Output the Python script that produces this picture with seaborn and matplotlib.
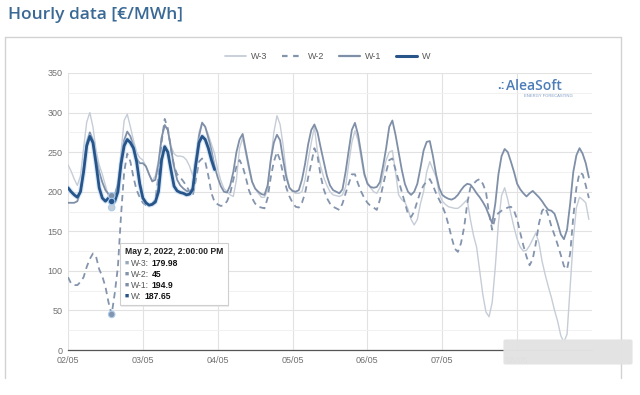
import numpy as np
import pandas as pd
import seaborn as sns
import matplotlib.pyplot as plt
from matplotlib.lines import Line2D
from matplotlib.patches import Rectangle, FancyBboxPatch
from matplotlib.text import Annotation

sns.set_style("white")
plt.rcParams["font.family"] = ["Liberation Sans", "DejaVu Sans"]

# Hourly prices (EUR/MWh), from 02/05 00:00, one value per hour
w3 = [234, 226, 216, 208, 220, 255, 288, 300, 282, 252, 234, 222,
      208, 194, 179.98, 185, 205, 250, 290, 298, 282, 265, 250, 243,
      240, 232, 222, 214, 220, 240, 268, 285, 278, 258, 248, 245,
      245, 244, 240, 232, 220, 245, 275, 288, 282, 272, 260, 248,
      228, 214, 204, 200, 196, 194, 215, 255, 268, 248, 228, 212,
      204, 198, 193, 193, 202, 240, 275, 296, 285, 258, 223, 205,
      200, 198, 198, 200, 215, 240, 262, 282, 250, 232, 218, 208,
      200, 196, 195, 194, 196, 206, 235, 262, 277, 265, 242, 220,
      212, 205, 200, 198, 205, 222, 240, 250, 252, 225, 196, 190,
      187, 178, 165, 158, 165, 185, 200, 225, 238, 228, 219, 198,
      188, 184, 181, 180, 179, 179, 182, 186, 190, 165, 145, 130,
      100, 70, 48, 42, 60, 105, 160, 195, 205, 190, 172, 155,
      140, 130, 125, 126, 132, 140, 148, 135, 112, 95, 80, 66,
      50, 36, 18, 10, 20, 80, 140, 180, 193, 190, 186, 165]
w2 = [92, 84, 82, 82, 86, 92, 105, 115, 122, 118, 102, 93,
      80, 60, 45, 72, 105, 170, 225, 248, 238, 218, 202, 193,
      186, 183, 182, 185, 190, 220, 262, 292, 280, 255, 232, 222,
      218, 213, 207, 200, 195, 215, 238, 242, 238, 220, 198, 187,
      184, 182, 183, 188, 198, 215, 232, 240, 232, 218, 202, 192,
      185, 181, 180, 179, 192, 218, 238, 250, 240, 222, 205, 194,
      186, 181, 180, 186, 198, 218, 236, 255, 245, 220, 203, 192,
      185, 181, 179, 177, 185, 198, 210, 222, 222, 210, 200, 192,
      186, 182, 180, 177, 190, 208, 225, 240, 242, 228, 214, 200,
      186, 172, 168, 175, 188, 200, 208, 213, 216, 208, 198, 190,
      182, 172, 158, 142, 128, 124, 135, 155, 185, 205, 210, 214,
      216, 210, 200, 172, 152, 168, 173, 176, 178, 180, 181, 176,
      165, 148, 132, 118, 107, 115, 135, 160, 176, 180, 170, 156,
      145, 133, 120, 106, 102, 122, 168, 205, 224, 222, 208, 192]
w1 = [186, 186, 186, 188, 200, 230, 262, 275, 265, 242, 225, 212,
      202, 197, 194.9, 196, 210, 240, 265, 276, 270, 258, 242, 236,
      236, 232, 222, 213, 215, 235, 268, 284, 278, 255, 232, 215,
      208, 204, 201, 200, 205, 235, 270, 287, 282, 268, 252, 232,
      218, 207, 200, 199, 208, 225, 250, 266, 273, 252, 232, 213,
      204, 200, 197, 196, 208, 240, 262, 272, 265, 240, 218, 205,
      201, 200, 202, 215, 235, 260, 278, 285, 275, 256, 238, 220,
      208, 202, 200, 198, 203, 225, 252, 278, 287, 272, 248, 223,
      210, 206, 205, 206, 212, 232, 255, 282, 290, 272, 250, 228,
      210, 200, 196, 200, 210, 230, 252, 263, 264, 245, 222, 205,
      196, 193, 191, 190, 192, 196, 202, 207, 210, 209, 204, 198,
      193, 187, 180, 170, 160, 185, 222, 245, 254, 250, 238, 225,
      210, 203, 198, 194, 198, 201, 197, 193, 188, 182, 177, 176,
      172, 160, 146, 140, 152, 185, 225, 246, 255, 248, 236, 218]
w0 = [205, 200, 196, 193, 200, 225, 258, 270, 262, 235, 205, 192,
      188, 192, 187.65, 188, 200, 235, 258, 266, 262, 255, 238, 210,
      192, 186, 183, 184, 187, 200, 240, 257, 250, 228, 207, 201,
      199, 198, 196, 197, 203, 235, 262, 270, 266, 255, 240, 228]

series_names = ["W-3", "W-2", "W-1", "W"]
day_labels = ["02/05", "03/05", "04/05", "05/05", "06/05", "07/05", "08/05"]
tip_hour = 14
tip_title = "May 2, 2022, 2:00:00 PM"
tip_values = ["179.98", "45", "194.9", "187.65"]

colours = {"W-3": "#c6cdd7", "W-2": "#8494ad", "W-1": "#7f8fa8", "W": "#27558a"}
widths = {"W-3": 1.0, "W-2": 1.3, "W-1": 1.3, "W": 2.0}

frames = []
for name, vals in zip(series_names, [w3, w2, w1, w0]):
    frames.append(pd.DataFrame({"hour": np.arange(len(vals)), "price": vals, "series": name}))
df = pd.concat(frames, ignore_index=True)

W, H = 640, 395
fig = plt.figure(figsize=(6.4, 3.95), dpi=100)
ax = fig.add_axes([68 / W, 1 - 350 / H, (592 - 68) / W, (350 - 73) / H])

# lines
for name in series_names:
    d = df[df["series"] == name]
    if name == "W":
        # hover highlight round the current week
        sns.lineplot(data=d, x="hour", y="price", color="#a8cbee", linewidth=3.6, alpha=0.45, ax=ax)
    ls = (0, (3.5, 2.5)) if name == "W-2" else "-"
    sns.lineplot(data=d, x="hour", y="price", color=colours[name], linewidth=widths[name],
                 linestyle=ls, ax=ax)

# hovered points
tip_y = [w3[tip_hour], w2[tip_hour], w1[tip_hour], w0[tip_hour]]
sns.scatterplot(x=[tip_hour] * 4, y=tip_y, hue=series_names, palette=colours, s=22,
                edgecolor="#a8cbee", linewidth=0.8, legend=False, ax=ax, zorder=5)

ax.set_xlim(0, 168)
ax.set_ylim(0, 350)
ax.set_xticks(np.arange(0, 168, 24))
ax.set_xticklabels(day_labels)
ax.set_yticks(np.arange(0, 351, 50))
ax.set_yticks(np.arange(25, 350, 50), minor=True)
ax.set_xlabel(None)
ax.set_ylabel(None)
ax.grid(True, which="major", color="#e2e2e2", linewidth=0.8)
ax.grid(True, which="minor", axis="y", color="#f1f1f1", linewidth=0.7)
ax.set_axisbelow(True)
for s in ["left", "right", "top"]:
    ax.spines[s].set_visible(False)
ax.spines["bottom"].set_color("#555555")
ax.spines["bottom"].set_linewidth(0.9)
ax.tick_params(which="both", length=0, labelsize=6.5, labelcolor="#707070", pad=4)

# legend
handles = [Line2D([], [], color=colours[n], linewidth=widths[n] + (0.3 if n != "W" else 0.2),
                  linestyle=(0, (2.5, 2.5)) if n == "W-2" else "-") for n in series_names]
leg = fig.legend(handles, series_names, loc="center", bbox_to_anchor=(0.512, 0.857), ncol=4,
                 frameon=False, fontsize=6.5, handlelength=2.3, columnspacing=1.7, handletextpad=0.5)
for t in leg.get_texts():
    t.set_color("#555555")

# panel frame
frame_kw = dict(transform=fig.transFigure, color="#d2d2d2", linewidth=1.0)
fig.add_artist(Line2D([5 / W, 621 / W], [1 - 37 / H, 1 - 37 / H], **frame_kw))
fig.add_artist(Line2D([5 / W, 5 / W], [1 - 37 / H, 1 - 378 / H], **frame_kw))
fig.add_artist(Line2D([621 / W, 621 / W], [1 - 37 / H, 1 - 378 / H], **frame_kw))

# title
fig.text(8 / W, 1 - 15 / H, "Hourly data [€/MWh]", fontsize=12.5, color="#3b6995",
         family=["Open Sans", "DejaVu Sans"], fontweight="semibold", va="center")

# logo
fig.text(497 / W, 1 - 86 / H, ".:", fontsize=9, color="#4d7db8", fontweight="bold", va="center")
fig.text(506 / W, 1 - 86 / H, "AleaSoft", fontsize=10, color="#4d7db8", fontweight="semibold",
         va="center", family=["Open Sans", "DejaVu Sans"])
fig.text(573 / W, 1 - 96 / H, "ENERGY FORECASTING", fontsize=3.0, color="#7c9bc4", va="center", ha="right")

# tooltip
fig.add_artist(Rectangle((121 / W, 1 - 307 / H), 108 / W, 63 / H, transform=fig.transFigure,
                         facecolor="#dddddd", edgecolor="none", alpha=0.5, zorder=9))
fig.add_artist(Rectangle((120 / W, 1 - 305 / H), 108 / W, 62 / H, transform=fig.transFigure,
                         facecolor="white", edgecolor="#cfcfcf", linewidth=0.8, zorder=10))
fig.text(125 / W, 1 - 252 / H, tip_title, fontsize=6.2, fontweight="bold", color="#222222",
         va="center", zorder=11)
for i, (name, val) in enumerate(zip(series_names, tip_values)):
    yy = 1 - (263 + i * 11.2) / H
    fig.text(125 / W, yy, "■", fontsize=5, color=colours[name] if name != "W-3" else "#9aa8bb",
             va="center", zorder=11)
    lab = fig.text(131 / W, yy, name + ":", fontsize=6.2, color="#555555", va="center", zorder=11)
    ann = Annotation(val, xy=(1, 0.5), xycoords=lab, xytext=(2, 0), textcoords="offset points",
                     fontsize=6.2, fontweight="bold", color="#111111", va="center", zorder=12,
                     annotation_clip=False)
    fig.add_artist(ann)

# smudge over the bottom right corner
fig.add_artist(FancyBboxPatch((506 / W, 1 - 363 / H), 124 / W, 22 / H, boxstyle="round,pad=0.004",
                              transform=fig.transFigure, facecolor="#e3e3e3", edgecolor="none",
                              alpha=0.97, zorder=20))

fig.savefig("out.png", dpi=100)
